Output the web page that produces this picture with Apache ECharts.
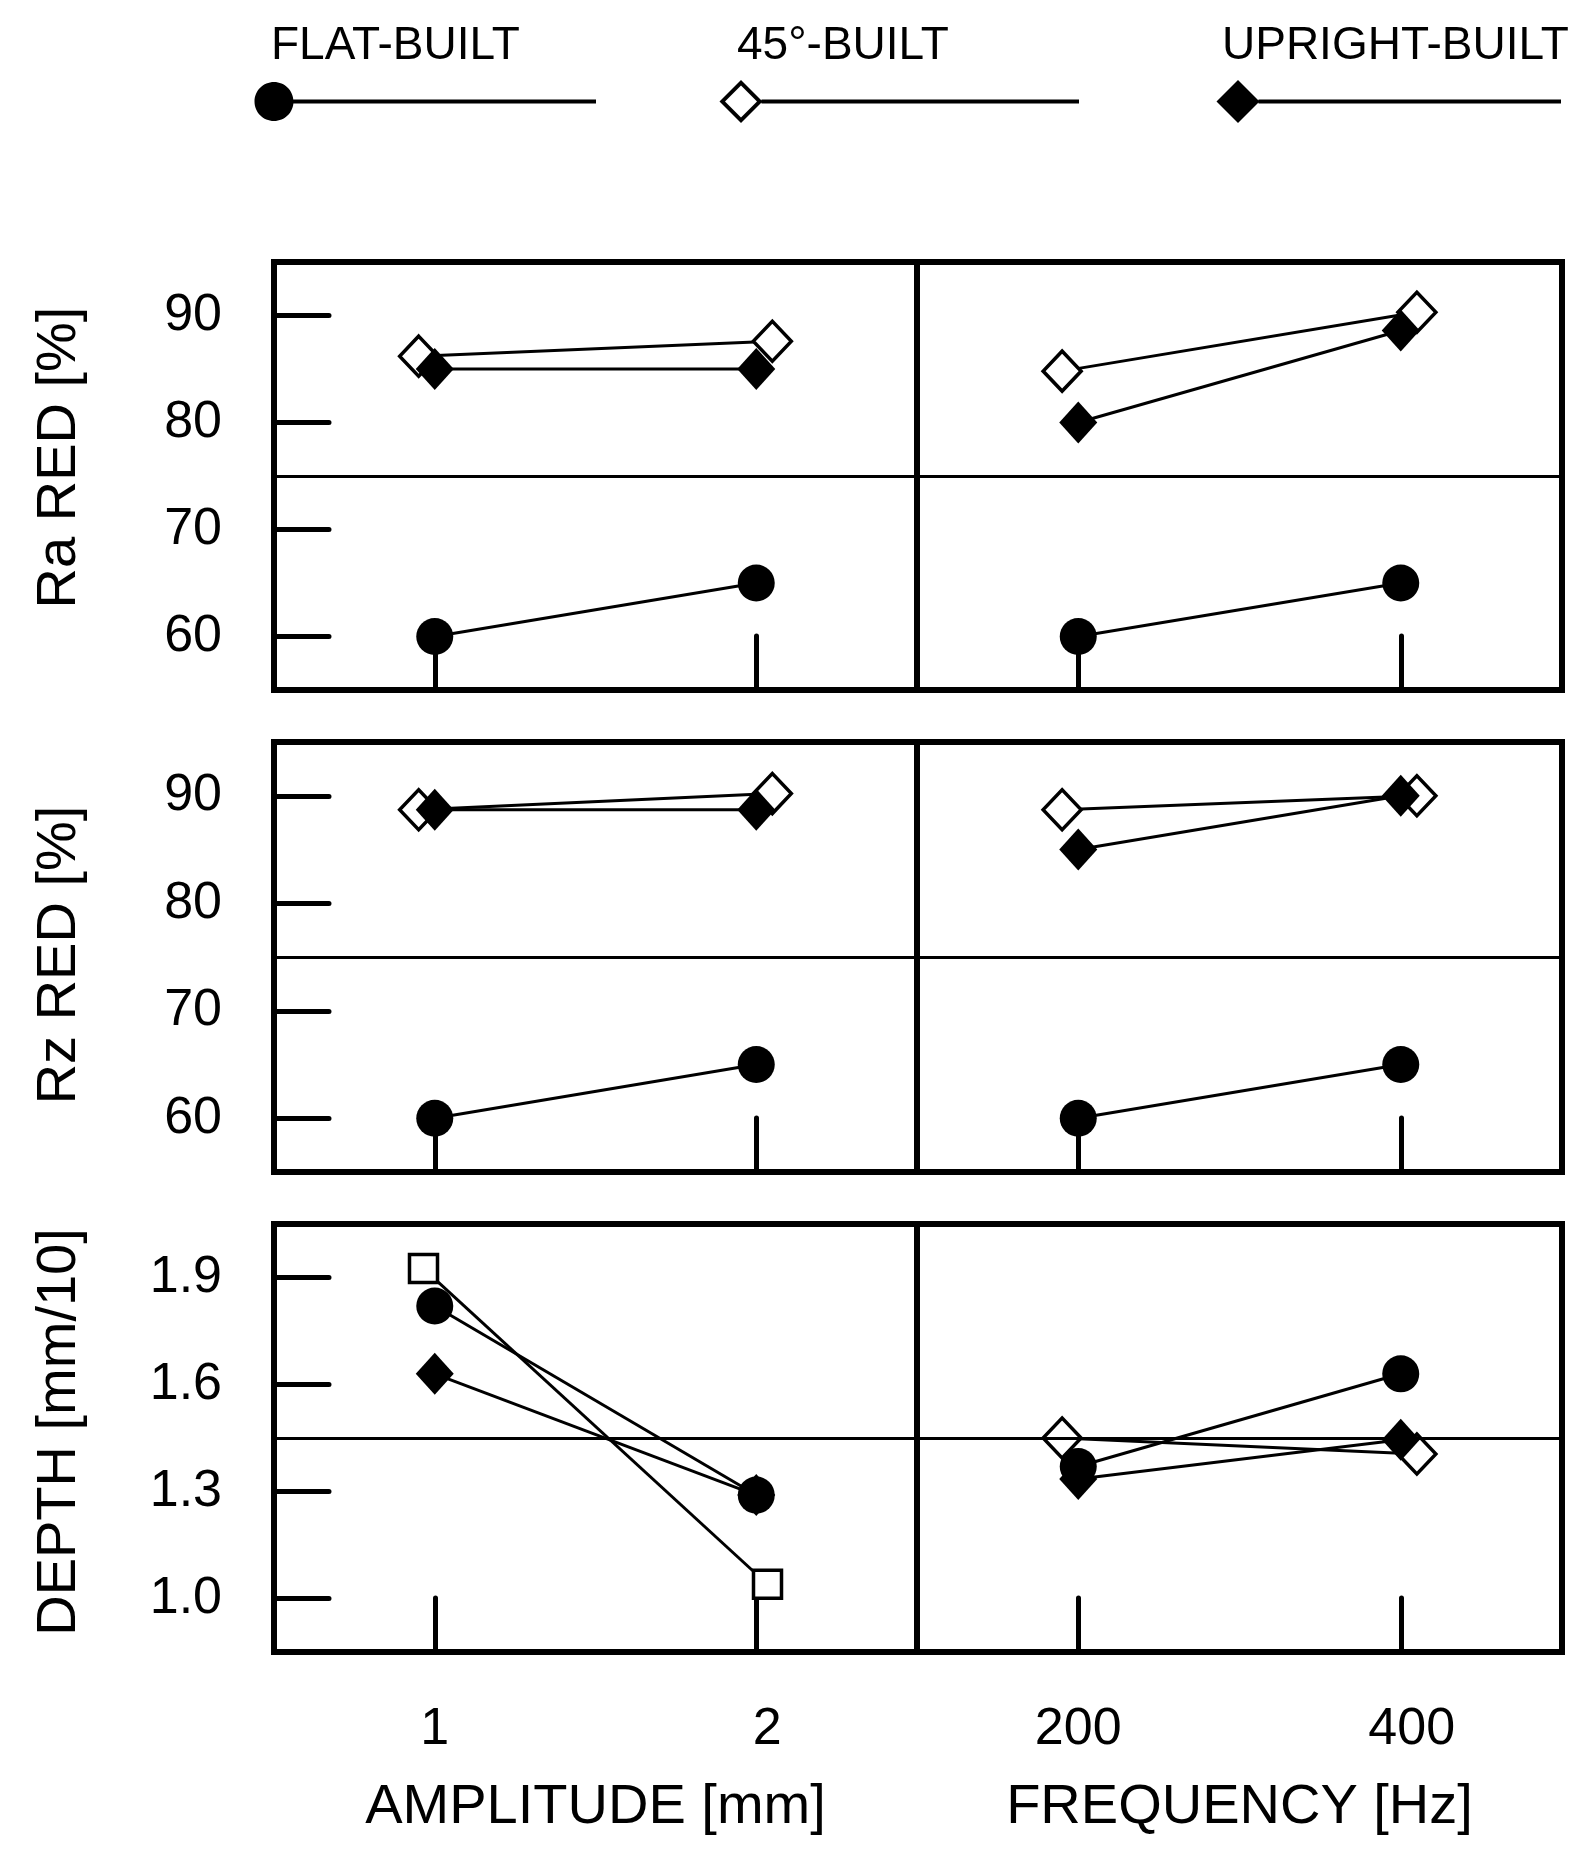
<!DOCTYPE html>
<html>
<head>
<meta charset="utf-8">
<script src="https://cdn.jsdelivr.net/npm/echarts@6/dist/echarts.min.js"></script>
<style>
  html, body { margin: 0; padding: 0; background: #fff; }
  #chart { width: 1589px; height: 1859px; }
</style>
</head>
<body>
<div id="chart"></div>
<script>
// ---------------- DATA ----------------
const AMPLITUDE_LABELS = ['1', '2'];
const FREQUENCY_LABELS = ['200', '400'];
const BUILD_NAMES = ['FLAT-BUILT', '45°-BUILT', 'UPRIGHT-BUILT'];

const RA_TICKS = [60, 70, 80, 90];
const RZ_TICKS = [60, 70, 80, 90];
const DEPTH_TICKS = [1.0, 1.3, 1.6, 1.9];

// Ra RED [%]
const raAmpFlat = [60.0, 65.0];
const raAmp45 = [86.2, 87.6];
const raAmpUpright = [85.0, 85.0];
const raFreqFlat = [60.0, 65.0];
const raFreq45 = [84.8, 90.3];
const raFreqUpright = [80.0, 88.6];

// Rz RED [%]
const rzAmpFlat = [60.0, 65.0];
const rzAmp45 = [88.7, 90.2];
const rzAmpUpright = [88.7, 88.7];
const rzFreqFlat = [60.0, 65.0];
const rzFreq45 = [88.7, 90.0];
const rzFreqUpright = [85.0, 90.0];

// DEPTH [mm/10]
const depthAmpFlat = [1.82, 1.29];
const depthAmp45 = [1.925, 1.04];
const depthAmpUpright = [1.63, 1.29];
const depthFreqFlat = [1.37, 1.63];
const depthFreq45 = [1.45, 1.405];
const depthFreqUpright = [1.335, 1.445];

// ---------------- STYLE / LAYOUT ----------------
const FONT = '"Liberation Sans", Arial, Helvetica, sans-serif';
const COLS = [{ left: 274, width: 643 }, { left: 917, width: 645 }];
const ROWS = [{ top: 262, height: 428 }, { top: 742, height: 430 }, { top: 1224, height: 428 }];
const DODGE_DIAMOND = 0.05;   // horizontal separation of 45° markers (axis units)
const DODGE_SQUARE = 0.035;

const rowDefs = [
  { min: 55, max: 95, sep: 75, ticks: RA_TICKS, name: 'Ra RED [%]', namePad: [0, 0, 0, 37], fmt: v => String(Math.round(v)),
    amp: [raAmpFlat, raAmp45, raAmpUpright], freq: [raFreqFlat, raFreq45, raFreqUpright], ampSquare: false },
  { min: 55, max: 95, sep: 75, ticks: RZ_TICKS, name: 'Rz RED [%]', namePad: [0, 0, 0, 4], fmt: v => String(Math.round(v)),
    amp: [rzAmpFlat, rzAmp45, rzAmpUpright], freq: [rzFreqFlat, rzFreq45, rzFreqUpright], ampSquare: false },
  { min: 0.85, max: 2.05, sep: 1.45, ticks: DEPTH_TICKS, name: 'DEPTH [mm/10]', namePad: [0, 0, 0, 12], fmt: v => v.toFixed(1),
    amp: [depthAmpFlat, depthAmp45, depthAmpUpright], freq: [depthFreqFlat, depthFreq45, depthFreqUpright], ampSquare: true }
];

const labelText = { fontSize: 52, color: '#000', fontFamily: FONT };

const grids = [], xAxes = [], yAxes = [], series = [];

rowDefs.forEach((row, r) => {
  [0, 1].forEach(c => {
    const gi = grids.length;
    grids.push({
      left: COLS[c].left, width: COLS[c].width, top: ROWS[r].top, height: ROWS[r].height,
      show: true, borderColor: '#000', borderWidth: 6, backgroundColor: 'transparent'
    });
    const isBottom = r === 2;
    const cats = c === 0 ? AMPLITUDE_LABELS : FREQUENCY_LABELS;
    xAxes.push({
      type: 'value', gridIndex: gi, min: -0.5, max: 1.5,
      axisLine: { show: false, onZero: false },
      splitLine: { show: false },
      axisTick: { show: true, inside: true, length: 54, customValues: [0, 1],
        lineStyle: { color: '#000', width: 5, cap: 'round' } },
      axisLabel: { show: isBottom, customValues: [0, 1], margin: 52,
        formatter: v => (Math.round(v) === 0 ? '{a|' : '{b|') + cats[Math.round(v)] + '}',
        rich: { a: labelText, b: Object.assign({ padding: [0, 0, 0, 22] }, labelText) },
        fontSize: 52, color: '#000', fontFamily: FONT },
      name: isBottom ? (c === 0 ? 'AMPLITUDE [mm]' : 'FREQUENCY [Hz]') : '',
      nameLocation: 'middle', nameGap: 128,
      nameTextStyle: { fontSize: 56, color: '#000', fontFamily: FONT }
    });
    yAxes.push({
      type: 'value', gridIndex: gi, min: row.min, max: row.max,
      axisLine: { show: false, onZero: false },
      splitLine: { show: false },
      axisTick: { show: c === 0, inside: true, length: 55, customValues: row.ticks,
        lineStyle: { color: '#000', width: 5, cap: 'round' } },
      axisLabel: { show: c === 0, customValues: row.ticks, margin: 52, formatter: row.fmt,
        fontSize: 52, color: '#000', fontFamily: FONT, padding: [0, 0, 13, 0] },
      name: c === 0 ? row.name : '',
      nameLocation: 'middle', nameRotate: 90, nameGap: 186,
      nameTextStyle: { fontSize: 56, color: '#000', fontFamily: FONT, padding: row.namePad }
    });

    const vals = c === 0 ? row.amp : row.freq;
    const square45 = c === 0 && row.ampSquare;
    const dodge = square45 ? DODGE_SQUARE : DODGE_DIAMOND;
    const base = { type: 'line', xAxisIndex: gi, yAxisIndex: gi, animation: false, silent: true,
      lineStyle: { color: '#000', width: 3 }, emphasis: { disabled: true } };
    // 45° (drawn first, underneath)
    series.push(Object.assign({}, base, {
      name: BUILD_NAMES[1],
      data: vals[1].map((y, i) => [i + (i === 0 ? -dodge : dodge), y]),
      symbol: square45 ? 'rect' : 'diamond',
      symbolSize: square45 ? 28 : [38, 40],
      itemStyle: { color: '#fff', borderColor: '#000', borderWidth: 3.5 }
    }));
    // upright
    series.push(Object.assign({}, base, {
      name: BUILD_NAMES[2],
      data: vals[2].map((y, i) => [i, y]),
      symbol: 'diamond', symbolSize: [38, 42],
      itemStyle: { color: '#000', borderWidth: 0 }
    }));
    // flat (with separator line)
    series.push(Object.assign({}, base, {
      name: BUILD_NAMES[0],
      data: vals[0].map((y, i) => [i, y]),
      symbol: 'circle', symbolSize: 37,
      itemStyle: { color: '#000', borderWidth: 0 },
      markLine: { silent: true, symbol: ['none', 'none'], label: { show: false }, animation: false,
        lineStyle: { color: '#000', width: 3, type: 'solid' }, emphasis: { disabled: true },
        data: [{ yAxis: row.sep }] }
    }));
  });
});

// legend icons (marker at left end + line)
const ICON_FLAT = 'path://M0,19.5 C0,8.73 8.73,0 19.5,0 C30.27,0 39,8.73 39,19.5 C39,30.27 30.27,39 19.5,39 C8.73,39 0,30.27 0,19.5 Z M38,17.5 L341.5,17.5 L341.5,21.5 L38,21.5 Z';
const ICON_45 = 'path://M0,21.5 L21.5,0 L43,21.5 L21.5,43 Z M5.5,21.5 L21.5,37.5 L37.5,21.5 L21.5,5.5 Z M42,19.5 L359.5,19.5 L359.5,23.5 L42,23.5 Z';
const ICON_UP = 'path://M0,21.5 L21.5,0 L43,21.5 L21.5,43 Z M42,19.5 L344.5,19.5 L344.5,23.5 L42,23.5 Z';

function legendFor(name, icon, left, top, w, h) {
  return {
    left: left, top: top, padding: 0, itemGap: 0, itemWidth: w, itemHeight: h,
    selectedMode: false, formatter: () => '', symbolKeepAspect: true,
    data: [{ name: name, icon: icon, itemStyle: { color: '#000', borderWidth: 0 } }]
  };
}

const titleStyle = { fontSize: 46, fontWeight: 'normal', color: '#000', fontFamily: FONT };

const option = {
  backgroundColor: '#fff',
  animation: false,
  title: [
    { text: BUILD_NAMES[0], left: 271, top: 23, padding: 0, textStyle: titleStyle },
    { text: BUILD_NAMES[1], left: 737, top: 23, padding: 0, textStyle: titleStyle },
    { text: BUILD_NAMES[2], left: 1222, top: 23, padding: 0, textStyle: titleStyle }
  ],
  legend: [
    legendFor(BUILD_NAMES[0], ICON_FLAT, 254.5, 82, 341.5, 39),
    legendFor(BUILD_NAMES[1], ICON_45, 719.5, 80, 359.5, 43),
    legendFor(BUILD_NAMES[2], ICON_UP, 1216.5, 80, 344.5, 43)
  ],
  grid: grids,
  xAxis: xAxes,
  yAxis: yAxes,
  series: series
};

const chart = echarts.init(document.getElementById('chart'), null, { renderer: 'canvas' });
chart.setOption(option);
</script>
</body>
</html>
